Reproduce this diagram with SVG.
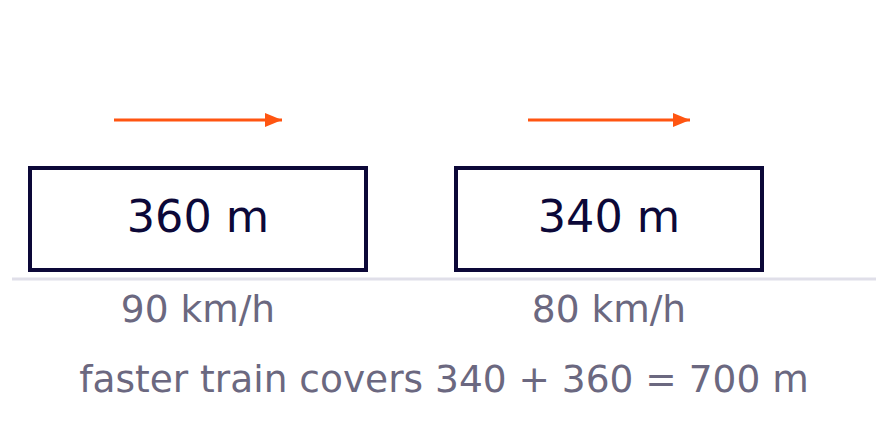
<svg xmlns="http://www.w3.org/2000/svg" width="888" height="429" viewBox="0 0 888 429">
<style>
.train{fill:#ffffff;stroke:#0c0838;stroke-width:4}
.len{font-family:"DejaVu Sans",sans-serif;font-size:44.5px;fill:#0c0838;text-anchor:middle}
.lbl{font-family:"DejaVu Sans",sans-serif;font-size:37.5px;fill:#6b6880;text-anchor:middle}
.mv{stroke:#ff5511;stroke-width:3;fill:none}
</style>
<defs>
<marker id="ah" markerUnits="userSpaceOnUse" markerWidth="18" markerHeight="16" refX="17" refY="7" orient="auto">
<path d="M0,0 L17,7 L0,14 Z" fill="#ff5511"/>
</marker>
</defs>
<rect width="888" height="429" fill="#ffffff"/>
<line x1="12" y1="279" x2="876" y2="279" stroke="#e0dfe9" stroke-width="3"/>
<g id="train-fast">
<rect class="train" x="30" y="168" width="336" height="102"/>
<text class="len" x="198" y="231.5">360 m</text>
<text class="lbl" x="198" y="321.5">90 km/h</text>
</g>
<g id="train-slow">
<rect class="train" x="456" y="168" width="306" height="102"/>
<text class="len" x="609" y="231.5">340 m</text>
<text class="lbl" x="609" y="321.5">80 km/h</text>
</g>
<g id="connectors">
<line class="mv" x1="114" y1="120" x2="282" y2="120" marker-end="url(#ah)"/>
<line class="mv" x1="528" y1="120" x2="690" y2="120" marker-end="url(#ah)"/>
</g>
<text class="lbl" x="444" y="391.5">faster train covers 340 + 360 = 700 m</text>
</svg>
